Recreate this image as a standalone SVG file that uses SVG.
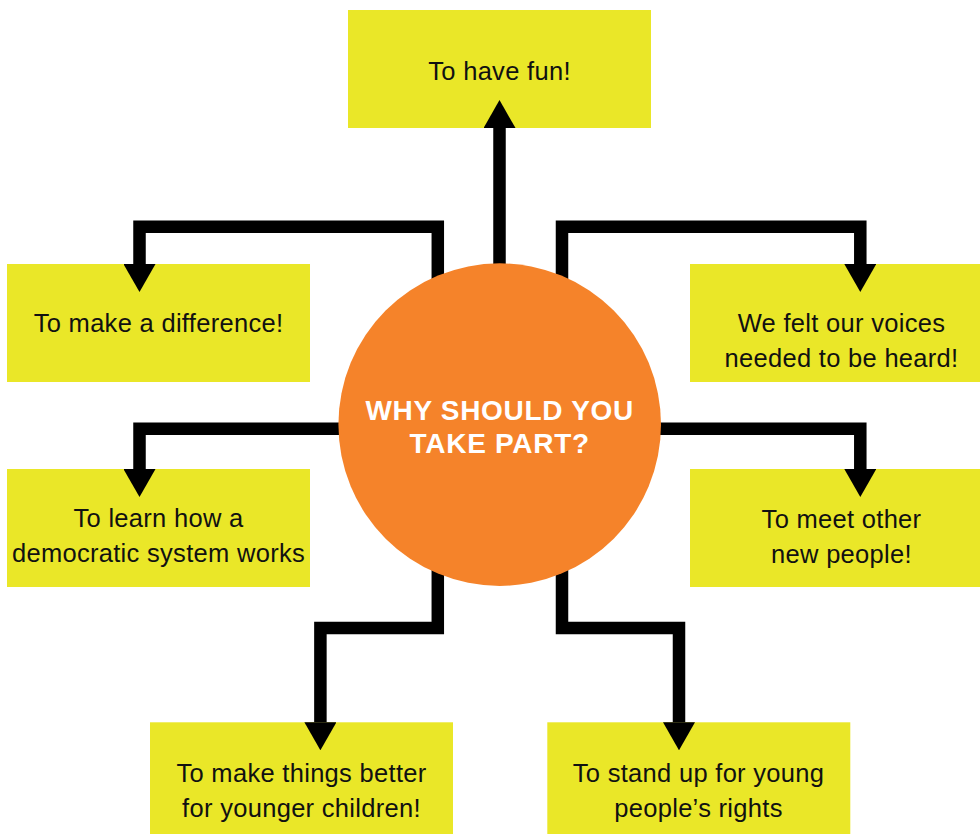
<svg xmlns="http://www.w3.org/2000/svg" width="980" height="834" viewBox="0 0 980 834">
<style>
.box{fill:#EAE728}
.lbl{font-family:"Liberation Sans",Arial,sans-serif;font-size:25.5px;letter-spacing:0.3px;fill:#111;text-anchor:middle}
.conn{fill:none;stroke:#000;stroke-width:12.5;stroke-linejoin:miter;marker-end:url(#ah)}
.hub{fill:#F5832A}
.hubt{font-family:"Liberation Sans",Arial,sans-serif;font-size:28px;font-weight:bold;letter-spacing:0.7px;fill:#fff;text-anchor:middle}
</style>
<defs>
<marker id="ah" markerUnits="userSpaceOnUse" markerWidth="28" markerHeight="32" viewBox="0 0 28 32" refX="0" refY="16" orient="auto">
<path d="M0,0 L28,16 L0,32 Z" fill="#000"/>
</marker>
</defs>
<rect width="980" height="834" fill="#fff"/>
<g id="n-fun"><rect class="box" x="348" y="10" width="303" height="118"/><text class="lbl" x="499.5" y="80">To have fun!</text></g>
<g id="n-difference"><rect class="box" x="7" y="264" width="303" height="118"/><text class="lbl" x="158.5" y="332">To make a difference!</text></g>
<g id="n-voices"><rect class="box" x="690" y="264" width="303" height="118"/><text class="lbl" x="841.5" y="332">We felt our voices</text><text class="lbl" x="841.5" y="367">needed to be heard!</text></g>
<g id="n-democratic"><rect class="box" x="7" y="469" width="303" height="118"/><text class="lbl" x="158.5" y="527">To learn how a</text><text class="lbl" x="158.5" y="562">democratic system works</text></g>
<g id="n-meet"><rect class="box" x="690" y="469" width="303" height="118"/><text class="lbl" x="841.5" y="528">To meet other</text><text class="lbl" x="841.5" y="562.5">new people!</text></g>
<g id="n-younger"><rect class="box" x="150" y="722.3" width="303" height="120"/><text class="lbl" x="301.5" y="781.7">To make things better</text><text class="lbl" x="301.5" y="816.7">for younger children!</text></g>
<g id="n-rights"><rect class="box" x="547.3" y="722.3" width="303" height="120"/><text class="lbl" x="698.5" y="781.7">To stand up for young</text><text class="lbl" x="698.5" y="816.7">people’s rights</text></g>
<g id="connectors">
<path class="conn" d="M499.5,300 V128"/>
<path class="conn" d="M437.8,300 V226.7 H139.5 V264"/>
<path class="conn" d="M562,300 V226.7 H860.3 V264"/>
<path class="conn" d="M420,428.8 H139.5 V469"/>
<path class="conn" d="M580,428.8 H860.3 V469"/>
<path class="conn" d="M437.8,550 V628 H320.4 V722.3"/>
<path class="conn" d="M562,550 V628 H679 V722.3"/>
</g>
<g id="n-hub"><circle class="hub" cx="499.7" cy="424.6" r="161.3"/><text class="hubt" x="499.7" y="420">WHY SHOULD YOU</text><text class="hubt" x="499.7" y="453.3">TAKE PART?</text></g>
</svg>
